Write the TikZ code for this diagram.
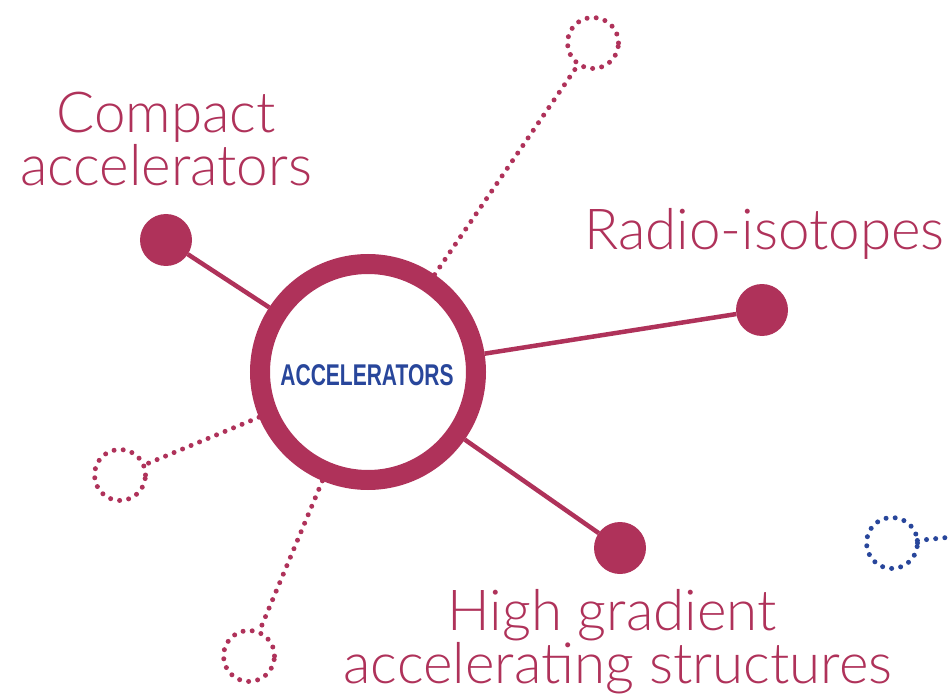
\documentclass[tikz,border=0pt]{standalone}
\usepackage{fontspec}
\setmainfont{Liberation Sans}
\IfFontExistsTF{Lato Light}{\newfontfamily\lightfont{Lato Light}\def\lblsize{56.5}}{%
  \IfFontExistsTF{Fira Sans Light}{\newfontfamily\lightfont{Fira Sans Light}\def\lblsize{50}}{%
    \IfFontExistsTF{Open Sans Light}{\newfontfamily\lightfont{Open Sans Light}\def\lblsize{49}}{%
      \newfontfamily\lightfont{Liberation Sans}\def\lblsize{53}}}}
\definecolor{mag}{RGB}{175,50,90}
\definecolor{navy}{RGB}{40,70,155}
\tikzset{
  lbl/.style={text=mag, anchor=base, inner sep=0pt, font=\lightfont\fontsize{\lblsize}{60}\selectfont},
  bigdot/.style={circle, fill=mag, minimum size=52pt, inner sep=0pt, outer sep=0pt},
  ring/.style={circle, draw=mag, line width=20pt, fill=white, minimum size=216pt, inner sep=0pt},
  hollow/.style={circle, draw=#1, line width=5pt, line cap=round, dash pattern=on 0pt off 9.2pt, minimum size=51pt, inner sep=0pt, outer sep=0pt},
  solidlink/.style={draw=mag, line width=4.5pt},
  dotlink/.style={draw=#1, line width=5pt, line cap=round, dash pattern=on 0pt off 9.2pt}
}
\begin{document}
\begin{tikzpicture}[x=1pt, y=-1pt]
\useasboundingbox (0,0) rectangle (948,695);
\node[ring] (hub) at (368,372) {};
\node[text=navy, font=\bfseries\fontsize{30}{30}\selectfont, xscale=0.70, inner sep=0pt] (hubtxt) at (367,375) {ACCELERATORS};

\node[bigdot] (compact) at (166,240) {};
\node[bigdot] (radio) at (762,310) {};
\node[bigdot] (high) at (620,548) {};

\node[hollow=mag] (top) at (593,43) {};
\node[hollow=mag] (left) at (120,475) {};
\node[hollow=mag] (bottom) at (249,656) {};
\node[hollow=navy] (blue) at (892,543) {};
\coordinate (blueend) at (952,537);

\path[solidlink] (hub) -- (compact);
\path[solidlink] (hub) -- (radio);
\path[solidlink] (hub) -- (high);
\path[dotlink=mag] (hub) -- (top);
\path[dotlink=mag] (hub) -- (left);
\path[dotlink=mag] (hub) -- (bottom);
\path[dotlink=navy] (blue) -- (blueend);

\node[lbl] (l1) at (166,133) {Compact};
\node[lbl] (l2) at (166,186) {accelerators};
\node[lbl, anchor=base west] (l3) at (584,250) {Radio-isotopes};
\node[lbl] (l4) at (612,630) {High gradient};
\node[lbl] (l5) at (618,683) {accelerating structures};
\end{tikzpicture}
\end{document}
